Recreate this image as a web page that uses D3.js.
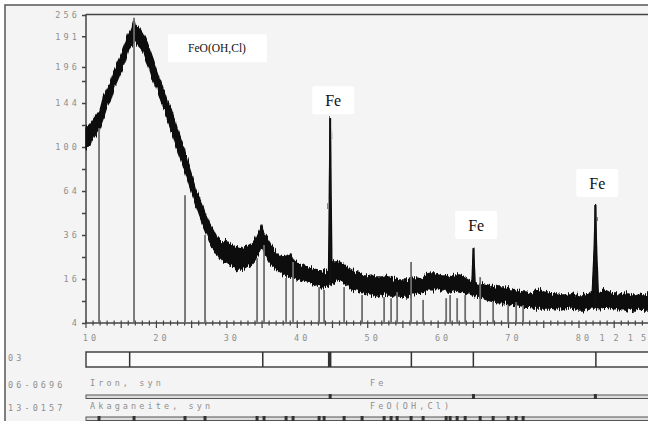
<!DOCTYPE html>
<html>
<head>
<meta charset="utf-8">
<script src="https://cdn.jsdelivr.net/npm/d3@7"></script>
<style>
  body { margin: 0; background: #fff; }
  .mono { font-family: "DejaVu Sans Mono", monospace; font-size: 8.5px; fill: #8f8f8f; letter-spacing: 3.1px; }
  .lbl { font-family: "Liberation Serif", serif; fill: #111; }
</style>
</head>
<body>
<div id="chart"></div>
<script>
/* XRD pattern - D3 */
const width = 648, height = 421;

const twoTheta = [10,10.5,11,11.5,12,12.5,13,13.5,14,14.5,15,15.5,16,16.5,16.8,17,17.5,18,18.5,19,19.5,20,20.5,21,21.5,22,22.5,23,23.5,24,24.5,25,25.5,26,26.5,27,27.5,28,28.5,29,29.5,30,30.5,31,31.5,32,32.5,33,33.5,34,34.5,34.9,35.2,35.5,36,36.5,37,37.5,38,38.5,39,39.5,40,40.5,41,41.5,42,42.5,43,43.5,44,44.45,44.67,44.9,45.5,46,46.5,47,47.5,48,48.5,49,49.5,50,50.5,51,51.5,52,52.5,53,53.5,54,54.5,55,55.5,56,56.5,57,57.5,58,58.5,59,59.5,60,60.5,61,61.5,62,62.5,63,63.5,64,64.5,64.8,65.02,65.25,65.5,66,66.5,67,67.5,68,68.5,69,69.5,70,70.5,71,71.5,72,72.5,73,73.5,74,74.5,75,75.5,76,76.5,77,77.5,78,78.5,79,79.5,80,80.5,81,81.5,81.9,82.15,82.33,82.5,82.75,83,83.5,84,84.5,85,85.5,86,86.5,87,87.5,88,88.5,89,89.8];
const upper = [119,121,126,131,136,151,159,167,182,192,202,214,228,238,249,240,238,231,221,208,195,182,170,159,147,139,128,116,106,97,85,76,66,60,54,48,43,39,35.5,33.3,32.3,31.8,31.3,29.8,29.3,28.8,29.8,30.3,31.3,33.3,37.7,41.1,37.7,35.5,32.3,29.3,27.3,25.5,25,25.5,26.4,23.7,22.8,21.9,21.1,20.7,20.3,19.8,19.4,19,18.6,19.4,128,22.8,22.8,23.2,22.3,20.7,19.4,18.6,18.3,17.9,17.1,17.1,17.5,16.7,16.7,16.7,17.1,16.7,16.4,16,15.6,15.6,15.6,16,16.4,16.4,16,16.7,17.9,18.3,18.3,17.5,17.1,17.1,16.7,17.1,17.5,17.5,17.1,16.4,15.6,14.9,29.3,14.6,14.6,14.2,14.2,13.9,13.5,13.2,12.9,12.9,12.9,12.6,12.6,12.3,11.9,11.6,11.6,11.3,11.3,11.9,12.3,11.6,11.3,11.3,11,11,10.7,10.7,11,11,10.7,10.4,10.4,10.7,11,11.6,28.3,54.2,28.3,11,11.3,12.3,11.9,11.3,11,11,10.7,11,11,10.7,10.7,11,10.7,10.7];
const lower = [99,102,108,113,119,129,141,147,161,171,181,192,208,214,218,218,213,208,195,184,170,160,150,139,127,118,108,97,89,80,71,63,56,49,43,38,33,29,27.3,24.5,22.8,22.3,21.5,20.7,19.4,19.4,20.3,21.1,21.9,23.7,26.9,30.3,28.3,25.9,23.2,21.5,20.3,19,17.9,17.1,16.7,16.4,16,15.6,15.3,14.9,14.6,13.9,13.5,13.2,13.5,13.9,13.9,14.3,15.3,15.6,14.9,13.9,12.9,12.3,12.3,11.9,11.3,11,10.7,10.4,10.1,10.7,11.3,10.7,10.7,10.4,10.4,10.1,10.1,10.4,11,11.3,11.3,11.6,12.3,12.3,12.3,12.3,11.9,12.3,11.6,11.9,12.3,11.9,11.6,11.3,11,10.8,10.6,10.5,10.4,9.8,9.6,9.3,9,8.7,8.5,8.5,8.5,8.2,7.9,7.9,7.7,7.4,7.4,7.4,7.2,7.2,7.2,7.2,7.2,7.2,7,7,6.7,7,7.2,7.2,7,6.7,6.7,7,7.2,7.2,7.2,7.2,7.2,7,7,7.4,7.4,7.2,7,7,7,7,6.7,6.7,6.7,7,6.7,6.7];

// reference sticks (13-0157 akaganeite)
const stickTheta = [11.85,16.82,24.06,26.9,34.29,35.28,38.41,39.4,43.1,43.81,46.65,49.2,52.33,53.32,54.18,56.16,57.87,61.14,61.7,62.7,63.84,65.97,67.81,69.94,71.08,72.07];
const stickCounts = [118,252,61,36,24.5,30.8,16.4,22.8,13.2,12.3,13.2,10.7,10.1,9.8,11.6,22.8,9.3,9.8,10.7,9.8,10.7,16.7,8.7,7.9,8.7,7.9];
// 06-0696 iron lines
const ironTheta = [44.67, 65.02, 82.33];

// axis ticks
const xLabels = [10,20,30,40,50,60,70,80];
const xExtraPos = [83.5,85.5,87.5,89.4];
const xExtraText = ["1","2","1","5"];
const yTickVals = [4,9,16,25,36,49,64,81,100,121,144,169,186,226,256];
const yTickText = {4:"4",16:"16",36:"36",64:"64",100:"100",144:"144",186:"196",226:"191",256:"256"};

// the "03" strip dividers
const barMarks = [16.2, 35.1, 44.6, 56.2, 65.0, 82.4];

// phase labels on the plot
const labelText = ["FeO(OH,Cl)", "Fe", "Fe", "Fe"];
const labelTheta = [28.6, 45.1, 65.4, 82.6];
const labelCounts = [210, 147, 41.7, 70];

const svg = d3.select("#chart")
    .append("svg")
    .attr("width", width)
    .attr("height", height);

// roughen the band edges so it reads like a noisy scan (texture only)
const filt = svg.append("defs").append("filter")
    .attr("id", "rough")
    .attr("x", "-2%").attr("y", "-10%")
    .attr("width", "104%").attr("height", "120%");
filt.append("feTurbulence")
    .attr("type", "fractalNoise")
    .attr("baseFrequency", "0.9 0.04")
    .attr("numOctaves", 2)
    .attr("seed", 4)
    .attr("result", "n0");
// keep sideways shift small (R near 0.5), vertical jitter from G
filt.append("feColorMatrix")
    .attr("in", "n0")
    .attr("type", "matrix")
    .attr("values", "0 0 0.2 0 0.4  0 1 0 0 0  0 0 1 0 0  0 0 0 0 1")
    .attr("result", "n");
filt.append("feDisplacementMap")
    .attr("in", "SourceGraphic")
    .attr("in2", "n")
    .attr("scale", 10)
    .attr("xChannelSelector", "R")
    .attr("yChannelSelector", "G");

// outer frame
svg.append("rect")
    .attr("x", 5).attr("y", 5)
    .attr("width", width + 10).attr("height", height + 10)
    .attr("fill", "#f4f4f4")
    .attr("stroke", "#555")
    .attr("stroke-width", 1.5);

let x = d3.scaleLinear()
    .domain([10, 89.8])
    .range([86, 648]);

let y = d3.scaleSqrt()
    .domain([4, 256])
    .range([323, 15]);

// top border of plot
svg.append("line")
    .attr("x1", 86).attr("x2", width)
    .attr("y1", 14.5).attr("y2", 14.5)
    .attr("stroke", "#444").attr("stroke-width", 1.5);

// y axis
const yAxis = svg.append("g")
    .attr("transform", "translate(86,0)")
    .call(d3.axisLeft(y).tickValues(yTickVals).tickSize(4).tickSizeOuter(0)
        .tickFormat(d => yTickText[d] || ""));
yAxis.select(".domain").attr("stroke", "#444").attr("stroke-width", 1.5)
    .attr("d", "M0,14V323");
yAxis.selectAll(".tick line").attr("stroke", "#444").attr("stroke-width", 1.5);
yAxis.selectAll(".tick text").attr("class", "mono").attr("x", -6).attr("dy", "0.32em");

// x axis, minor ticks every degree crossing the line
const xAxis = svg.append("g")
    .attr("transform", "translate(0,323)");
xAxis.append("line")
    .attr("x1", 86).attr("x2", width)
    .attr("stroke", "#444").attr("stroke-width", 1.5);
xAxis.selectAll(".mt")
    .data(d3.range(10, 90))
    .join("line")
    .attr("x1", d => x(d)).attr("x2", d => x(d))
    .attr("y1", -2.5).attr("y2", d => d % 5 === 0 ? 5 : 2.5)
    .attr("stroke", "#444").attr("stroke-width", 1.2);
xAxis.selectAll(".xl")
    .data(xLabels)
    .join("text")
    .attr("class", "mono")
    .attr("x", d => x(d) + 5)
    .attr("y", 18)
    .attr("text-anchor", "middle")
    .text(d => d);
xAxis.selectAll(".xe")
    .data(xExtraPos)
    .join("text")
    .attr("class", "mono")
    .attr("x", d => x(d))
    .attr("y", 18)
    .attr("text-anchor", "middle")
    .text((d, i) => xExtraText[i]);

// measured data as a band
const data = twoTheta.map((t, i) => ({ t: t, hi: upper[i], lo: lower[i] }));
let area = d3.area()
    .x(d => x(d.t))
    .y0(d => y(d.lo))
    .y1(d => y(d.hi));

svg.append("path")
    .datum(data)
    .attr("d", area)
    .attr("fill", "#111")
    .attr("stroke", "#111")
    .attr("stroke-width", 1.5)
    .attr("filter", "url(#rough)");

// sharp Fe peaks redrawn crisp on top
svg.selectAll(".fe")
    .data(ironTheta)
    .join("line")
    .attr("x1", d => x(d)).attr("x2", d => x(d))
    .attr("y1", d => y(upper[twoTheta.indexOf(d)]))
    .attr("y2", d => y(lower[twoTheta.indexOf(d)]))
    .attr("stroke", "#111")
    .attr("stroke-width", 2);

// reference sticks on top
svg.selectAll(".stick")
    .data(stickTheta)
    .join("line")
    .attr("x1", d => x(d)).attr("x2", d => x(d))
    .attr("y1", y(4))
    .attr("y2", (d, i) => y(stickCounts[i]))
    .attr("stroke", "#6e6e6e")
    .attr("stroke-width", 1.8);

// labels
const lab = svg.selectAll(".lab")
    .data(labelText)
    .join("g")
    .attr("transform", (d, i) => `translate(${x(labelTheta[i])},${y(labelCounts[i])})`);
lab.append("rect")
    .attr("x", (d, i) => i === 0 ? -49 : -21)
    .attr("y", -14)
    .attr("width", (d, i) => i === 0 ? 99 : 42)
    .attr("height", 28)
    .attr("rx", 2)
    .attr("fill", "#fff");
lab.append("text")
    .attr("class", "lbl")
    .attr("text-anchor", "middle")
    .attr("dy", "0.35em")
    .attr("font-size", (d, i) => i === 0 ? 11.5 : 16)
    .text(d => d);

// "03" strip
svg.append("text").attr("class", "mono").attr("x", 8).attr("y", 361).text("03");
svg.append("rect")
    .attr("x", 86).attr("y", 352)
    .attr("width", width).attr("height", 15)
    .attr("fill", "#fbfbfb")
    .attr("stroke", "#444").attr("stroke-width", 1.5);
svg.selectAll(".bm")
    .data(barMarks)
    .join("line")
    .attr("x1", d => x(d)).attr("x2", d => x(d))
    .attr("y1", 352).attr("y2", 367)
    .attr("stroke", "#333")
    .attr("stroke-width", (d, i) => i === 2 ? 3.5 : 1.5);

// pattern rows
const rows = [
    { code: "06-0696", name: "Iron, syn", formula: "Fe", yy: 388, line: 397, lines: ironTheta },
    { code: "13-0157", name: "Akaganeite, syn", formula: "FeO(OH,Cl)", yy: 411, line: 419, lines: stickTheta }
];
rows.forEach(r => {
    svg.append("text").attr("class", "mono").attr("x", 8).attr("y", r.yy).text(r.code);
    svg.append("text").attr("class", "mono").attr("x", 90).attr("y", r.yy - 2).text(r.name);
    svg.append("text").attr("class", "mono").attr("x", 370).attr("y", r.yy - 2).text(r.formula);
    svg.append("rect")
        .attr("x", 86).attr("y", r.line - 2)
        .attr("width", width).attr("height", 3.5)
        .attr("fill", "#ddd")
        .attr("stroke", "#555").attr("stroke-width", 1);
    svg.selectAll(null)
        .data(r.lines)
        .join("rect")
        .attr("x", d => x(d) - 1.5)
        .attr("y", r.line - 3)
        .attr("width", 3).attr("height", 5)
        .attr("fill", "#333");
});
</script>
</body>
</html>
